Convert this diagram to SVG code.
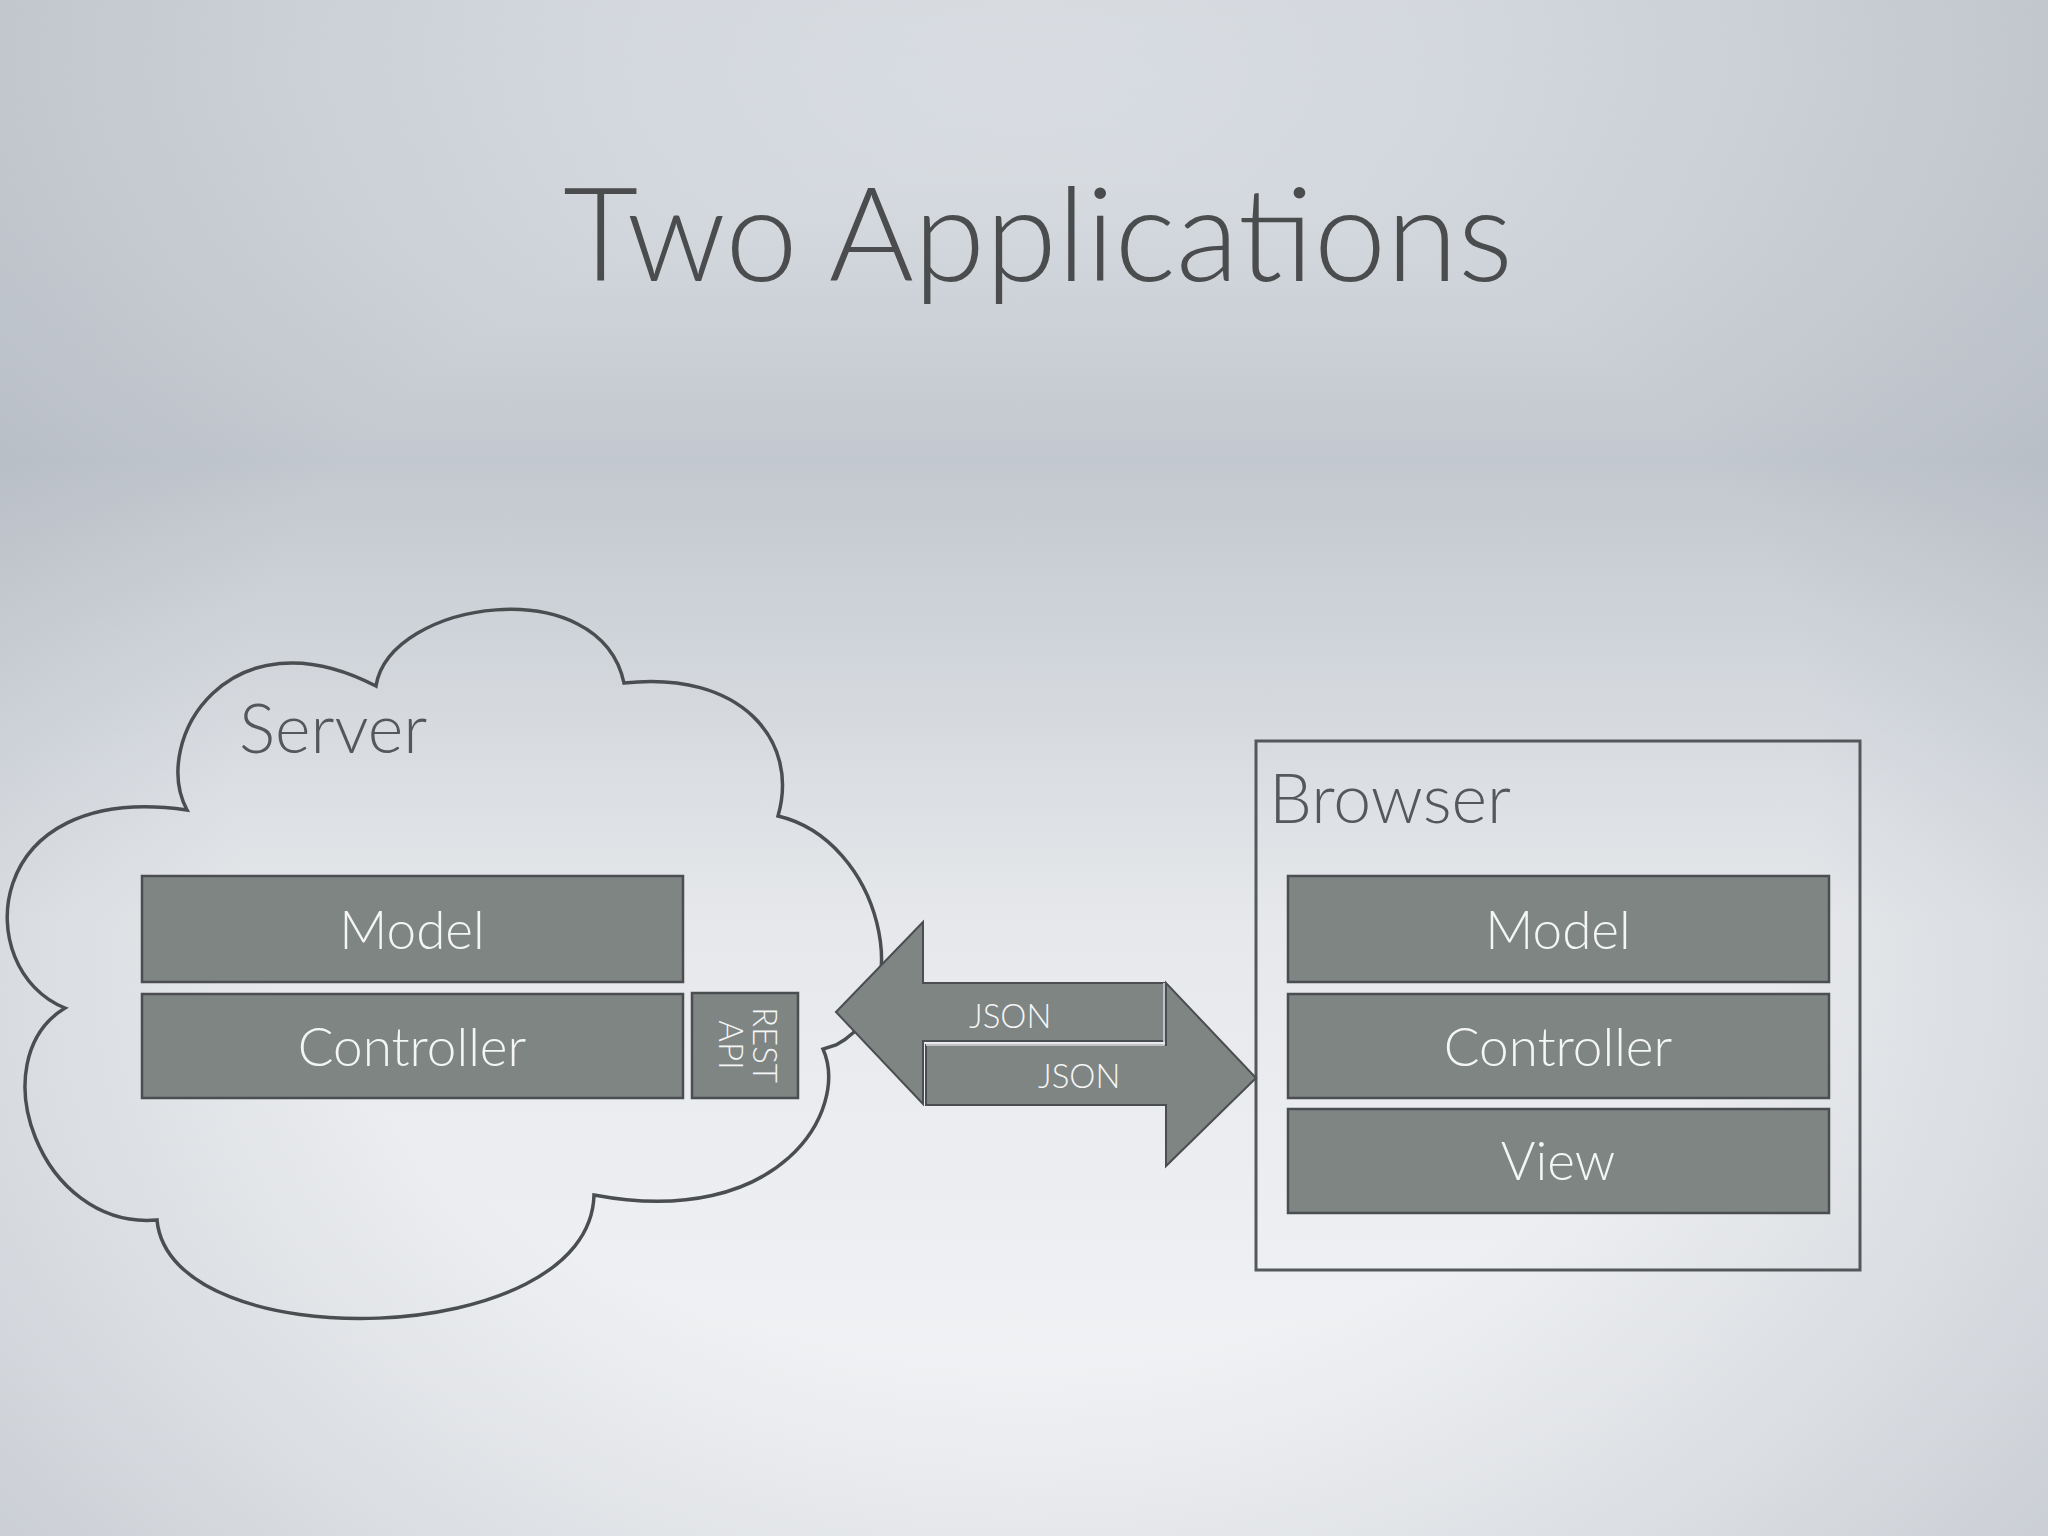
<svg xmlns="http://www.w3.org/2000/svg" width="2048" height="1536" viewBox="0 0 2048 1536">
<defs>
<linearGradient id="bg" x1="0" y1="0" x2="0" y2="1">
<stop offset="0" stop-color="#e4e7eb"/><stop offset="0.3" stop-color="#c2c8cf"/><stop offset="0.6" stop-color="#e6e8eb"/><stop offset="1" stop-color="#f4f5f7"/>
</linearGradient>
<radialGradient id="vig" cx="0.5" cy="0.5" r="0.7">
<stop offset="0.55" stop-color="#8f98a3" stop-opacity="0"/><stop offset="1" stop-color="#8f98a3" stop-opacity="0.4"/>
</radialGradient>
<style>
.box{fill:#7f8583;stroke:#4b4e50;stroke-width:2.5}
.bt{font-family:Lato,"Open Sans",sans-serif;font-weight:300;fill:#f4f5f5;font-size:53px;text-anchor:middle}
.st{font-family:Lato,"Open Sans",sans-serif;font-weight:300;fill:#f4f5f5;font-size:33px}
.lab{font-family:Lato,"Open Sans",sans-serif;font-weight:300;fill:#55585b;font-size:68px}
</style>
</defs>
<rect width="2048" height="1536" fill="url(#bg)"/>
<rect width="2048" height="1536" fill="url(#vig)"/>
<text x="1038" y="281" text-anchor="middle" font-family="Lato,'Open Sans',sans-serif" font-weight="300" font-size="130" fill="#4a4c4e">Two Applications</text>
<g id="server">
<path d="M187,810 C150,740 230,610 376,686 C390,600 600,570 624,683 C740,670 800,740 778,816 C880,840 920,1000 836,1045 L823,1049 C850,1110 780,1230 594,1195 C590,1350 170,1360 157,1220 C40,1230 -20,1060 65,1008 C-30,970 -20,780 187,810 Z" fill="none" stroke="#4b4e50" stroke-width="3.5"/>
<text class="lab" x="239" y="753">Server</text>
</g>
<g id="server-model"><rect class="box" x="142" y="876" width="541" height="106"/><text class="bt" x="412" y="949">Model</text></g>
<g id="server-controller"><rect class="box" x="142" y="994" width="541" height="104"/><text class="bt" x="412" y="1066">Controller</text></g>
<g id="rest-api"><rect class="box" x="692" y="993" width="106" height="105"/>
<text class="st" transform="translate(745,1045) rotate(90)" text-anchor="middle"><tspan x="0" y="-8">REST</tspan><tspan x="0" y="26">API</tspan></text></g>
<g id="browser">
<rect x="1256" y="741" width="604" height="529" fill="none" stroke="#55585b" stroke-width="3"/>
<text class="lab" x="1269" y="823">Browser</text>
</g>
<g id="browser-model"><rect class="box" x="1288" y="876" width="541" height="106"/><text class="bt" x="1558" y="949">Model</text></g>
<g id="browser-controller"><rect class="box" x="1288" y="994" width="541" height="104"/><text class="bt" x="1558" y="1066">Controller</text></g>
<g id="browser-view"><rect class="box" x="1288" y="1109" width="541" height="104"/><text class="bt" x="1558" y="1180">View</text></g>
<g id="connectors">
<path d="M836,1012 L923,922 L923,983 L1164,983 L1164,1041 L923,1041 L923,1104 Z" fill="#7f8583" stroke="#4b4e50" stroke-width="2"/>
<path d="M1256,1078 L1166,1166 L1166,1105 L926,1105 L926,1045 L1166,1045 L1166,983 Z" fill="#7f8583" stroke="#4b4e50" stroke-width="2"/>
<path d="M926,1045 L1164,1045 L1164,983" fill="none" stroke="#e6e8ea" stroke-width="1.5"/>
<text class="st" x="969" y="1028">JSON</text>
<text class="st" x="1038" y="1088">JSON</text>
</g>
</svg>
